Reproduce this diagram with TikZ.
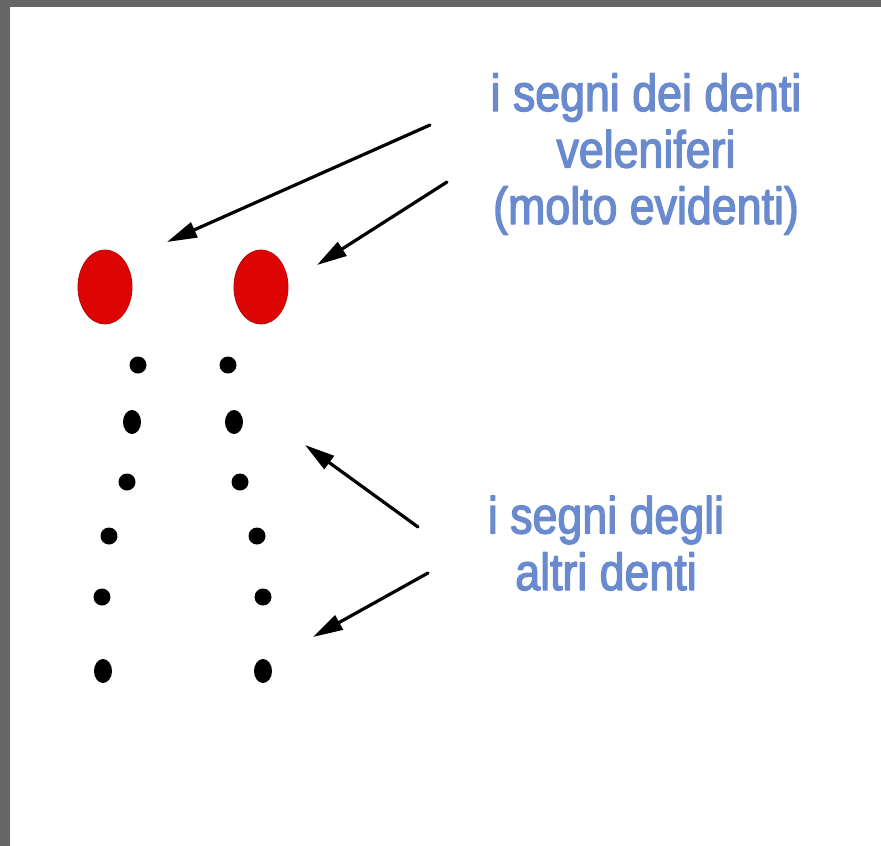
\documentclass[tikz,border=0pt]{standalone}
\usepackage{fontspec}
\usepackage{xcolor}
\usepackage{tikz}
\usetikzlibrary{arrows.meta,shapes.geometric}
\newfontfamily\biteFont{Liberation Sans}[FakeStretch=0.86,FakeBold=2.5]
\definecolor{biteFrame}{HTML}{666666}
\definecolor{biteRed}{HTML}{DD0404}
\definecolor{biteBlue}{HTML}{6A8AD0}
\definecolor{biteInk}{HTML}{000000}
\tikzset{
  bite diagram/.style={x=1pt,y=-1pt,line cap=round,line join=round},
  bite fang/.style={ellipse,fill=biteRed,draw=biteRed!85!black,line width=0.8pt,
    minimum width=54pt,minimum height=74pt,inner sep=0pt},
  bite arrow/.style={-{Triangle[length=30pt,width=16pt]},draw=biteInk,line width=3.2pt},
  bite label/.style={font=\biteFont\fontsize{52}{56.5}\selectfont,text=biteBlue,
    align=center,anchor=base,inner sep=0pt}
}
\begin{document}
\begin{tikzpicture}[bite diagram]
\useasboundingbox (0,0) rectangle (881,846);
\fill[biteFrame] (0,0) rectangle (881,846);
\fill[white] (10,7) rectangle (881,846);
% venom fangs
\node[bite fang] (fangL) at (105,287) {};
\node[bite fang] (fangR) at (261,287) {};
% other teeth
\foreach \x/\y in {138/365,127/482,109/536,102/597,228/365,240/482,257/536,263/597}
  \fill[biteInk] (\x,\y) ellipse (8.5 and 8.5);
\foreach \x/\y in {132/422,103/671,234/422,263/671}
  \fill[biteInk] (\x,\y) ellipse (9 and 12);
% labels (base = last line)
\node[bite label] (txtFangs) at (646,224) {i segni dei denti\\veleniferi\\(molto evidenti)};
\node[bite label] (txtTeeth) at (606,590) {i segni degli\\altri denti};
\coordinate (aS1) at (430,125);  \coordinate (aE1) at (167,242);
\coordinate (aS2) at (447,182);  \coordinate (aE2) at (317,265);
\coordinate (aS3) at (418,527);  \coordinate (aE3) at (305,445);
\coordinate (aS4) at (428,573);  \coordinate (aE4) at (313,637);
\foreach \n in {1,...,4}
  \draw[bite arrow] (aS\n) -- (aE\n);
\end{tikzpicture}
\end{document}
